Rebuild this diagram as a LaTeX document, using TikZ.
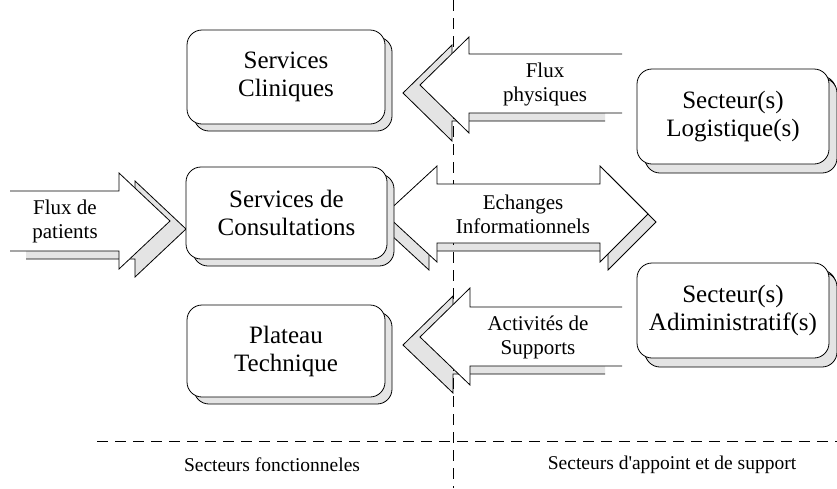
\documentclass[tikz,border=0pt]{standalone}
\usepackage{fontspec}
\setmainfont{Liberation Serif}
\newfontfamily\plainserif[Ligatures=TeXOff]{Liberation Serif}
\usetikzlibrary{shadows}
\definecolor{shadowgray}{RGB}{228,228,228}
\newcommand{\boxfont}{\fontsize{25}{28}\selectfont}
\newcommand{\arrfont}{\fontsize{21}{24}\selectfont}
\newcommand{\botfont}{\plainserif\fontsize{19.5}{22}\selectfont}
\tikzset{
  box/.style={draw=black, fill=white, rounded corners=15pt, align=center,
    font=\boxfont, line width=0.8pt, inner sep=0pt,
    general shadow={shadow xshift=7pt, shadow yshift=-7pt, fill=shadowgray, draw=black, line width=0.8pt}},
  rbox/.style={box, general shadow={shadow xshift=8pt, shadow yshift=-9pt, fill=shadowgray, draw=black, line width=0.8pt}},
  arrlabel/.style={align=center, font=\arrfont, inner sep=0pt},
  botlabel/.style={font=\botfont, inner sep=0pt},
  outline/.style={draw=black, line width=0.8pt, line join=miter},
  sepline/.style={draw=black, line width=0.8pt, dash pattern=on 11pt off 7pt}
}
\begin{document}
\begin{tikzpicture}[x=1pt, y=-1pt]
\useasboundingbox (0,0) rectangle (837,488);
\fill[white] (0,0) rectangle (837,488);

% ---- arrow shadows ----
% top arrow (Flux physiques)
\begin{scope}[shift={(-17,8)}]
  \fill[shadowgray] (622,54) -- (469,54) -- (469,37) -- (420,85) -- (469,133) -- (469,113) -- (622,113) -- cycle;
  \path[outline] (622,54) -- (469,54) -- (469,37) -- (420,85) -- (469,133) -- (469,113) -- (622,113);
\end{scope}
% bottom arrow (Activites)
\begin{scope}[shift={(-17,8)}]
  \fill[shadowgray] (622,307) -- (470,307) -- (470,288) -- (420,337) -- (470,385) -- (470,366) -- (622,366) -- cycle;
  \path[outline] (622,307) -- (470,307) -- (470,288) -- (420,337) -- (470,385) -- (470,366) -- (622,366);
\end{scope}
% left arrow (Flux de patients)
\begin{scope}[shift={(16,8)}]
  \fill[shadowgray] (10,191) -- (119,191) -- (119,173) -- (170,221) -- (119,269) -- (119,251) -- (10,251) -- cycle;
  \path[outline] (10,191) -- (119,191) -- (119,173) -- (170,221) -- (119,269) -- (119,251) -- (10,251);
\end{scope}
% double arrow shadow
\path[outline, fill=shadowgray] (377,222) -- (429,174) -- (429,192) -- (608,192) -- (608,174) -- (656,222)
  -- (608,270) -- (608,251) -- (429,251) -- (429,270) -- cycle;

% ---- separators ----
\coordinate (vtop) at (453,0);
\coordinate (vbot) at (453,488);
\coordinate (hleft) at (97,441);
\coordinate (hright) at (837,441);
\path[sepline] (vtop) -- (vbot);
\path[sepline] (hleft) -- (hright);

% ---- white arrows ----
\fill[white] (622,54) -- (469,54) -- (469,37) -- (420,85) -- (469,133) -- (469,113) -- (622,113) -- cycle;
\path[outline] (622,54) -- (469,54) -- (469,37) -- (420,85) -- (469,133) -- (469,113) -- (622,113);
\fill[white] (622,307) -- (470,307) -- (470,288) -- (420,337) -- (470,385) -- (470,366) -- (622,366) -- cycle;
\path[outline] (622,307) -- (470,307) -- (470,288) -- (420,337) -- (470,385) -- (470,366) -- (622,366);
\fill[white] (10,191) -- (119,191) -- (119,173) -- (170,221) -- (119,269) -- (119,251) -- (10,251) -- cycle;
\path[outline] (10,191) -- (119,191) -- (119,173) -- (170,221) -- (119,269) -- (119,251) -- (10,251);
\path[outline, fill=white] (385,214) -- (437,166) -- (437,184) -- (600,184) -- (600,166) -- (648,214)
  -- (600,262) -- (600,243) -- (437,243) -- (437,262) -- cycle;

% ---- arrow labels ----
\node[arrlabel] (lphys) at (545,84) {Flux\\physiques};
\node[arrlabel] (linfo) at (523,214) {Echanges\\Informationnels};
\node[arrlabel] (lsupp) at (538,337) {Activités de\\Supports};
\node[arrlabel] (lpat) at (65,221) {Flux de\\patients};

% ---- boxes ----
\node[box, minimum width=198pt, minimum height=94pt] (clin) at (286,77) {Services\\Cliniques};
\node[box, minimum width=201pt, minimum height=92pt] (cons) at (286.5,213) {Services de\\Consultations};
\node[box, minimum width=198pt, minimum height=92pt] (plat) at (286,351) {Plateau\\Technique};
\node[rbox, minimum width=192pt, minimum height=95pt] (logi) at (733,116.5) {Secteur(s)\\Logistique(s)};
\node[rbox, minimum width=192pt, minimum height=95pt] (admi) at (733,310.5) {Secteur(s)\\Adiministratif(s)};

% ---- bottom labels ----
\node[botlabel] (lfonc) at (272,465) {Secteurs fonctionneles};
\node[botlabel] (lappui) at (672,465) {Secteurs d'appoint et de support};
\end{tikzpicture}
\end{document}
